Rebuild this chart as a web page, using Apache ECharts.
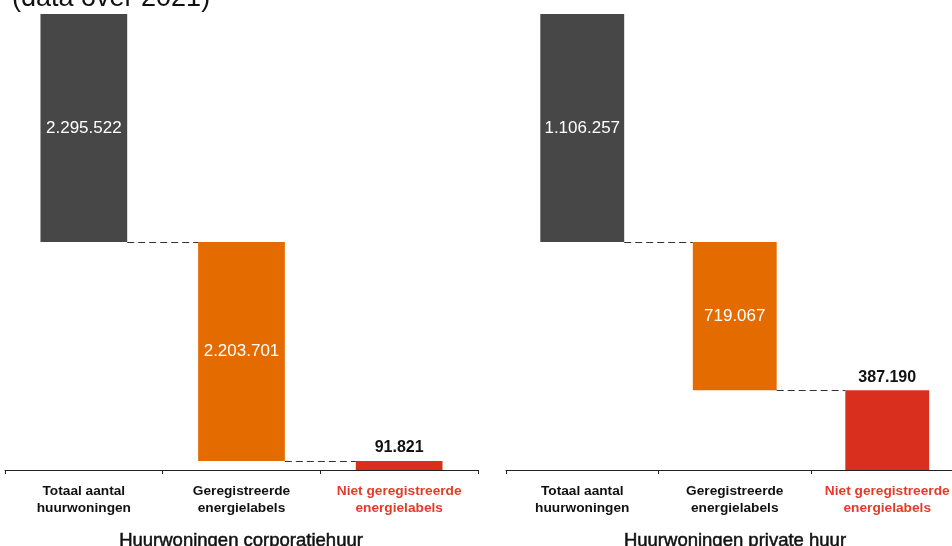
<!DOCTYPE html>
<html>
<head>
<meta charset="utf-8">
<script src="https://cdn.jsdelivr.net/npm/echarts@6/dist/echarts.min.js"></script>
<style>html,body{margin:0;padding:0;background:#fff;}#c{width:952px;height:546px;}</style>
</head>
<body>
<div id="c"></div>
<script>
const categories = ['Totaal aantal\nhuurwoningen', 'Geregistreerde\nenergielabels', 'Niet geregistreerde\nenergielabels'];
const corporatieValues = [2295522, 2203701, 91821];
const privateValues = [1106257, 719067, 387190];
const panelTitles = ['Huurwoningen corporatiehuur', 'Huurwoningen private huur'];
const subtitle = '(data over 2021)';

const FONT = '"Liberation Sans", Arial, Helvetica, sans-serif';
const barColors = ['#474747', '#e46b00', '#d92f1f'];
const catLabelColors = ['#111111', '#111111', '#e53b2b'];
const BAR_W = 0.55;

function fmt(v) { return String(v).replace(/\B(?=(\d{3})+(?!\d))/g, '.'); }

function panelSeries(values, idx) {
  const bases = [values[1] + values[2], values[2], 0];
  const base = {
    type: 'bar', xAxisIndex: idx, yAxisIndex: idx, stack: 's' + idx,
    barWidth: (BAR_W * 100) + '%', silent: true,
    itemStyle: { color: 'transparent' }, data: bases
  };
  const main = {
    type: 'bar', xAxisIndex: idx, yAxisIndex: idx, stack: 's' + idx,
    barWidth: (BAR_W * 100) + '%',
    data: values.map((v, i) => ({
      value: v,
      itemStyle: { color: barColors[i] },
      label: i < 2 ? {
        show: true, position: 'inside', color: '#ffffff', fontSize: 17, fontFamily: FONT,
        formatter: p => fmt(p.value)
      } : {
        show: true, position: 'top', distance: 5, color: '#111111', fontSize: 16, fontWeight: 'bold', fontFamily: FONT,
        formatter: p => fmt(p.value)
      }
    }))
  };
  const conn = {
    type: 'custom', xAxisIndex: idx, yAxisIndex: idx, silent: true, z: 5,
    data: [[0, bases[0]], [1, bases[1]]],
    renderItem: function (params, api) {
      const p = api.coord([api.value(0), api.value(1)]);
      const bw = api.size([1, 0])[0];
      const half = bw * BAR_W / 2;
      const y = Math.round(p[1]) + 0.5;
      return {
        type: 'line',
        shape: { x1: p[0] + half, y1: y, x2: p[0] + bw - half, y2: y },
        style: { stroke: '#333333', lineWidth: 1, lineDash: [7, 4] }
      };
    }
  };
  return [base, main, conn];
}

function xAx(idx) {
  return {
    type: 'category', gridIndex: idx, data: categories,
    axisLine: { show: true, lineStyle: { color: '#222222', width: 1 } },
    axisTick: { show: true, length: 4, lineStyle: { color: '#222222', width: 1 } },
    axisLabel: {
      interval: 0, margin: 13, fontSize: 13.7, fontWeight: 'bold', lineHeight: 17, fontFamily: FONT,
      color: (v, i) => catLabelColors[i]
    }
  };
}
function yAx(idx, values) {
  return { type: 'value', gridIndex: idx, min: 0, max: values[0] * 2, show: false, splitLine: { show: false } };
}

const chart = echarts.init(document.getElementById('c'));
chart.setOption({
  animation: false,
  backgroundColor: '#ffffff',
  grid: [
    { left: 5, width: 473, top: 14, bottom: 76, outerBoundsMode: 'none', containLabel: false },
    { left: 506, width: 457.5, top: 14, bottom: 76, outerBoundsMode: 'none', containLabel: false }
  ],
  xAxis: [xAx(0), xAx(1)],
  yAxis: [yAx(0, corporatieValues), yAx(1, privateValues)],
  series: [].concat(panelSeries(corporatieValues, 0), panelSeries(privateValues, 1)),
  graphic: [
    { type: 'text', x: 12, y: -1.5, style: { text: subtitle, fontSize: 27, fontFamily: FONT, fill: '#111111', verticalAlign: 'middle' } },
    { type: 'text', x: 241, y: 541, style: { text: panelTitles[0], fontSize: 18.5, fontFamily: FONT, fill: '#111111', stroke: '#111111', lineWidth: 0.5, align: 'center', verticalAlign: 'middle' } },
    { type: 'text', x: 735, y: 541, style: { text: panelTitles[1], fontSize: 18.5, fontFamily: FONT, fill: '#111111', stroke: '#111111', lineWidth: 0.5, align: 'center', verticalAlign: 'middle' } }
  ]
});
</script>
</body>
</html>
